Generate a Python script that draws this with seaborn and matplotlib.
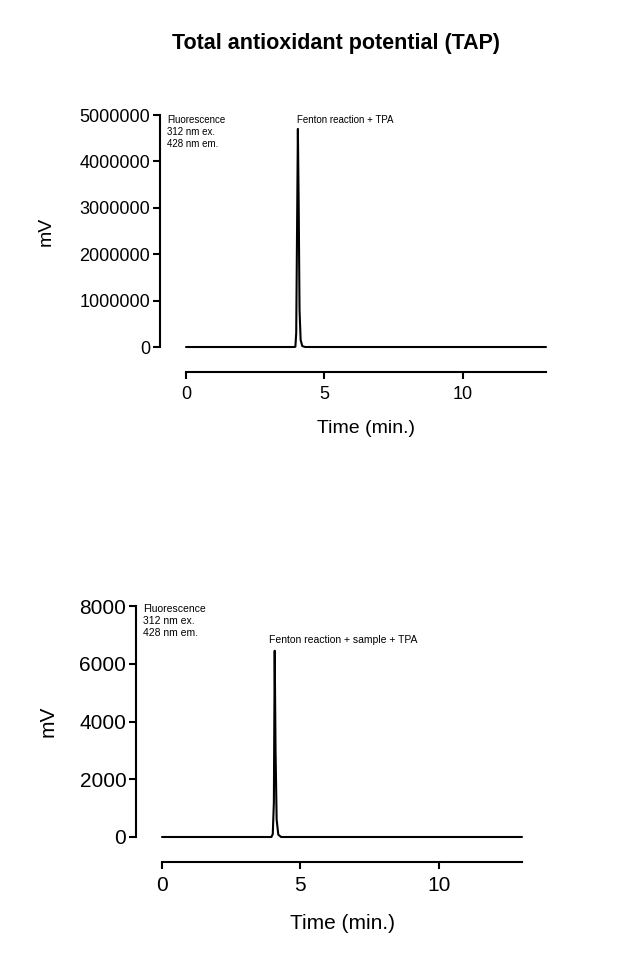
import matplotlib
matplotlib.use("Agg")
import matplotlib.pyplot as plt
import seaborn as sns

# ---- data ----
time_top = [0.0, 3.90, 3.95, 3.98, 4.01, 4.04, 4.07, 4.10, 4.14, 4.20, 4.30, 13.0]
mv_top = [0, 0, 5000, 300000, 2500000, 4700000, 3000000, 800000, 150000, 20000, 0, 0]

time_bot = [0.0, 3.95, 4.00, 4.04, 4.07, 4.10, 4.14, 4.20, 4.30, 13.0]
mv_bot = [0, 0, 100, 1200, 6450, 3000, 600, 80, 0, 0]

yticks_top = [0, 1000000, 2000000, 3000000, 4000000, 5000000]
yticks_bot = [0, 2000, 4000, 6000, 8000]
xticks = [0, 5, 10]

title = "Total antioxidant potential (TAP)"
det_text = "Fluorescence\n312 nm ex.\n428 nm em."
label_top = "Fenton reaction + TPA"
label_bot = "Fenton reaction + sample + TPA"

sns.set_style("ticks")
plt.rcParams['font.family'] = ['Liberation Sans', 'DejaVu Sans']
plt.rcParams['text.color'] = 'black'
plt.rcParams['axes.labelcolor'] = 'black'

W, H = 617, 966
fig = plt.figure(figsize=(W / 100, H / 100), dpi=100)


def px_axes(x0, x1, y_top, y_bottom):
    return fig.add_axes([x0 / W, 1 - y_bottom / H, (x1 - x0) / W, (y_bottom - y_top) / H])


def style(ax, yticks, ymax, fs_tick, fs_label, ylpad, xlpad):
    ax.set_xlim(0, 13)
    ax.set_ylim(0, ymax)
    ax.set_xticks(xticks)
    ax.set_yticks(yticks)
    ax.set_yticklabels([str(v) for v in yticks])
    for s in ['top', 'right']:
        ax.spines[s].set_visible(False)
    ax.spines['left'].set_position(('outward', 26 * 72 / 100))
    ax.spines['bottom'].set_position(('outward', 25 * 72 / 100))
    ax.spines['left'].set_bounds(0, ymax)
    ax.spines['bottom'].set_bounds(0, 13)
    for s in ['left', 'bottom']:
        ax.spines[s].set_linewidth(1.5)
        ax.spines[s].set_color('black')
    ax.tick_params(axis='both', length=5, width=1.5, colors='black', labelsize=fs_tick, pad=2)
    ax.tick_params(axis='x', pad=5)
    ax.set_xlabel("Time (min.)", fontsize=fs_label, labelpad=xlpad, color='black')
    ax.set_ylabel("mV", fontsize=fs_label, labelpad=ylpad, color='black')
    for l in ax.get_lines():
        l.set_clip_on(False)


ax1 = px_axes(186, 546, 115, 347)
sns.lineplot(x=time_top, y=mv_top, ax=ax1, color='black', lw=1.5, estimator=None, sort=False)
style(ax1, yticks_top, 5000000, 13, 14, 18, 12)
ax1.text(167 / W, 1 - 115 / H, det_text, transform=fig.transFigure, fontsize=7,
         va='top', ha='left', linespacing=1.25)
ax1.text(345 / W, 1 - 120 / H, label_top, transform=fig.transFigure, fontsize=7,
         va='center', ha='center')

ax2 = px_axes(162, 522, 606, 837)
sns.lineplot(x=time_bot, y=mv_bot, ax=ax2, color='black', lw=1.5, estimator=None, sort=False)
style(ax2, yticks_bot, 8000, 15, 15, 16, 14)
ax2.text(143 / W, 1 - 604 / H, det_text, transform=fig.transFigure, fontsize=7.5,
         va='top', ha='left', linespacing=1.25)
ax2.text(343 / W, 1 - 640 / H, label_bot, transform=fig.transFigure, fontsize=7.5,
         va='center', ha='center')

fig.text(336 / W, 1 - 43 / H, title, fontsize=15.5, fontweight='bold', ha='center', va='center')

fig.savefig("out.png", dpi=100)
